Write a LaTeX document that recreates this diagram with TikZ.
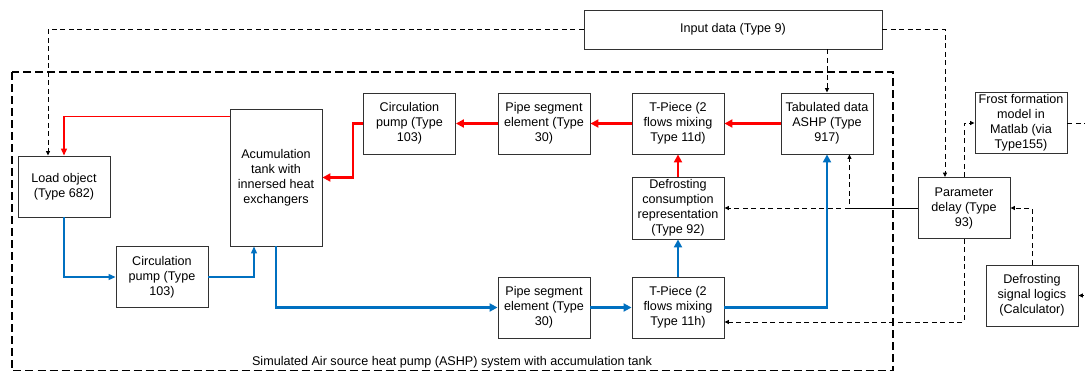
\documentclass[tikz,border=0pt]{standalone}
\usepackage{fontspec}
\setmainfont{Liberation Sans}
\usetikzlibrary{arrows.meta,calc}
\definecolor{rd}{RGB}{255,0,0}
\definecolor{bl}{RGB}{0,112,192}
\definecolor{bx}{RGB}{50,50,50}
\begin{document}
\begin{tikzpicture}[x=1pt,y=-1pt,
  box/.style={draw=bx, line width=0.9pt, fill=white, minimum width=92pt, minimum height=61pt,
    inner sep=1pt, align=center, font=\fontsize{12.6}{15}\selectfont},
  redthick/.style={draw=rd, line width=2.6pt, -{Triangle[length=8pt,width=8pt]}},
  redthin/.style={draw=rd, line width=1.2pt, -{Triangle[length=7pt,width=6pt]}},
  bluethick/.style={draw=bl, line width=2.6pt, -{Triangle[length=8pt,width=8pt]}},
  bluethin/.style={draw=bl, line width=1.2pt, -{Triangle[length=7pt,width=6pt]}},
  dsh/.style={draw=black, line width=0.9pt, dash pattern=on 5pt off 3.5pt, -{Triangle[length=4.5pt,width=4pt]}},
  dshn/.style={draw=black, line width=0.9pt, dash pattern=on 5pt off 3.5pt},
  outer/.style={draw=black, line width=1.5pt, dash pattern=on 8pt off 4pt},
  lbl/.style={font=\fontsize{12.6}{15}\selectfont, inner sep=0pt}
]
\useasboundingbox (0,0) rectangle (1085,372);
\fill[white] (0,0) rectangle (1085,372);

% outer system boundary
\draw[outer] (12,72) rectangle (893,370.5);
\node[lbl] (syslbl) at (452,362) {Simulated Air source heat pump (ASHP) system with accumulation tank};

% boxes
\node[box, minimum width=298pt, minimum height=39pt] (input) at (733,29.5) {Input data (Type 9)};
\node[box] (load) at (64,186.5) {Load object\\(Type 682)};
\node[box, minimum height=137pt] (tank) at (276,177.5) {Acumulation\\tank with\\innersed heat\\exchangers};
\node[box] (cp1) at (409.5,123.5) {Circulation\\pump (Type\\103)};
\node[box] (ps1) at (544,123.5) {Pipe segment\\element (Type\\30)};
\node[box] (t11d) at (678,123.5) {T-Piece (2\\flows mixing\\Type 11d)};
\node[box] (tab) at (827,123.5) {Tabulated data\\ASHP (Type\\917)};
\node[box, minimum height=62pt] (defc) at (678,208) {Defrosting\\consumption\\representation\\(Type 92)};
\node[box] (cp2) at (162,277) {Circulation\\pump (Type\\103)};
\node[box] (ps2) at (544,307.5) {Pipe segment\\element (Type\\30)};
\node[box] (t11h) at (678,307.5) {T-Piece (2\\flows mixing\\Type 11h)};
\node[box] (frost) at (1021,123) {Frost formation\\model in\\Matlab (via\\Type155)};
\node[box] (param) at (964,208) {Parameter\\delay (Type\\93)};
\node[box] (dsl) at (1032,295.5) {Defrosting\\signal logics\\(Calculator)};

\coordinate (frostout) at (1090,123);
\coordinate (dslin) at (1092,295.5);

% red loop
\draw[redthick] (tab.west) -- (t11d.east);
\draw[redthick] (t11d.west) -- (ps1.east);
\draw[redthick] (ps1.west) -- (cp1.east);
\draw[redthick] (cp1.west) -- ++(-10,0) |- (tank.east);
\draw[redthin] ($(tank.north west)+(0,8)$) -| (load.north);
\draw[redthick] (defc.north) -- (t11d.south);

% blue loop
\draw[bluethin] (load.south) |- (cp2.west);
\draw[bluethin] (cp2.east) -| ($(tank.south)+(-22,0)$);
\draw[bluethick] (tank.south) |- (ps2.west);
\draw[bluethick] (ps2.east) -- (t11h.west);
\draw[bluethick] (t11h.north) -- (defc.south);
\draw[bluethick] (t11h.east) -| (tab.south);

% dashed signals
\draw[dsh] (input.west) -| ($(load.north)+(-16,0)$);
\draw[dsh] (input.south -| tab.north) -- (tab.north);
\draw[dsh] (input.east) -| ($(param.north)+(-19,0)$);
\draw[dsh] (param.north) |- (frost.west);
\draw[dshn] (frost.east) -- (frostout);
\draw[dsh] (param.west) -- (defc.east);
\draw[dsh, dash phase=4.5pt] (param.west) -| ($(tab.south east)+(-24,0)$);
\draw[dsh] (param.south) |- ($(t11h.east)+(0,14.5)$);
\draw[dsh] (dsl.north) |- (param.east);
\draw[dsh] (dslin) -- (dsl.east);
\end{tikzpicture}
\end{document}
